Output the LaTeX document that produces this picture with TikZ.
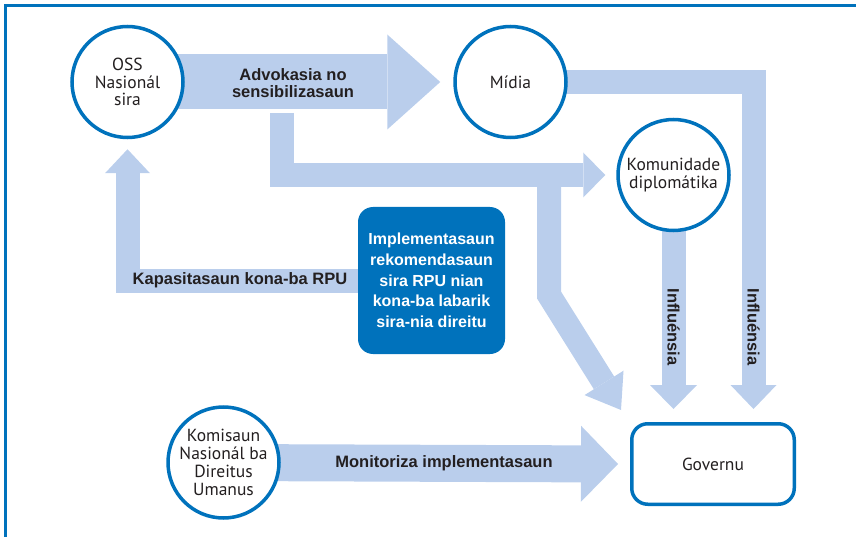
\documentclass[tikz,border=0pt]{standalone}
\usepackage{fontspec}
\usepackage{tikz}
\usetikzlibrary{arrows.meta,calc,positioning}
\setmainfont{Liberation Sans}
\newfontfamily\circfont{PT Sans}
\definecolor{lineblue}{RGB}{0,114,188}
\definecolor{flowblue}{RGB}{186,206,236}
\definecolor{inkgray}{RGB}{35,31,32}
\pgfdeclarelayer{background}
\pgfsetlayers{background,main}
\tikzset{
  actor/.style={circle, draw=lineblue, line width=3.5pt, fill=white, minimum size=111pt,
    inner sep=0pt, align=center, text=inkgray, font=\circfont\fontsize{17.5}{17.8}\selectfont},
  flow/.style={color=flowblue, line join=miter},
  flowlbl/.style={text=inkgray, align=center, font=\bfseries\fontsize{16.5}{16.5}\selectfont}
}

\begin{document}
\begin{tikzpicture}[x=1pt,y=-1pt]
    \useasboundingbox (0,0) rectangle (856,537);

    % Frame
    \draw[lineblue, line width=2.5pt] (5.5,537) -- (5.5,5.5) -- (856,5.5);

    % Actors
    \node[actor] (oss) at (127.5,82) {OSS\\Nasionál\\sira};
    \node[actor] (midia) at (510.5,82) {Mídia};
    \node[actor] (komunidade) at (673.5,175) {Komunidade\\diplomátika};
    \node[actor] (komisaun) at (223.5,462.5) {Komisaun\\Nasionál ba\\Direitus\\Umanus};
    \node[draw=lineblue, line width=3.5pt, rounded corners=16pt, fill=white,
      minimum width=162.5pt, minimum height=80.5pt, text=inkgray,
      font=\circfont\fontsize{17.5}{17.8}\selectfont] (governu) at (713,464) {Governu};
    \node[fill=lineblue, rounded corners=15pt, minimum width=147pt, minimum height=147pt,
      inner sep=0pt, text=white, align=center,
      font=\bfseries\fontsize{16}{20.75}\selectfont] (rpu) at (431.5,280.5)
      {Implementasaun\\rekomendasaun\\sira RPU nian\\kona-ba labarik\\sira-nia direitu};

    % Split points of the branching arrows
    \coordinate (advsplit) at (282,113);
    \coordinate (dipsplit) at (549,174.5);

    % Flows
    \begin{pgfonlayer}{background}
    \draw[flow, line width=55pt, -{Triangle[length=53pt,width=95pt,line width=0pt]}]
      (oss.center) -- ($(midia.west)+(-13,0)$);
    \draw[flow, line width=24pt, -{Triangle[length=22pt,width=45pt,line width=0pt]}]
      (advsplit) |- ($(komunidade.west)+(-11,0)$);
    \draw[flow, line width=24pt, -{Triangle[length=32pt,width=46pt,line width=0pt]}]
      (dipsplit) -- ++(0,120.5) -- ($(governu.north west)+(-9,-12)$);
    \draw[flow, line width=24pt, -{Triangle[length=24pt,width=46pt,line width=0pt]}]
      (midia.center) -| ($(governu.north)+(40.5,-13)$);
    \draw[flow, line width=24pt, -{Triangle[length=24pt,width=47pt,line width=0pt]}]
      (komunidade.center) -- ($(governu.north)+(-39.5,-13)$);
    \draw[flow, line width=24pt, -{Triangle[length=24pt,width=45pt,line width=0pt]}]
      (rpu.center) -| ($(oss.south)+(0,10)$);
    \draw[flow, line width=37pt, -{Triangle[length=37pt,width=76pt,line width=0pt]}]
      (komisaun.center) -- ($(governu.west)+(-12,0)$);
    \end{pgfonlayer}

    % Flow labels
    \node[flowlbl] (advlbl) at (293,83) {Advokasia no\\sensibilizasaun};
    \node[flowlbl] (kaplbl) at (240,280.5) {Kapasitasaun kona-ba RPU};
    \node[flowlbl] (monlbl) at (444,463.5) {Monitoriza implementasaun};
    \node[flowlbl, rotate=-90] (inflkom) at (673.5,327) {Influénsia};
    \node[flowlbl, rotate=-90] (inflmid) at (753.5,327) {Influénsia};

\end{tikzpicture}
\end{document}
